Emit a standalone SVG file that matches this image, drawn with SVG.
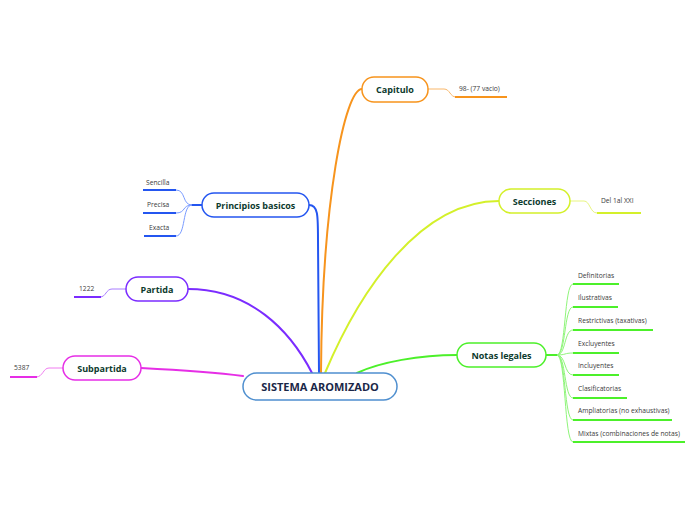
<svg xmlns="http://www.w3.org/2000/svg" width="696" height="520" viewBox="0 0 696 520">
<style>
.n rect{fill:#fff;stroke-width:1.5}
.t{font-family:"Open Sans","Noto Sans",sans-serif;font-weight:bold;font-size:9px;fill:#0d3b2e;text-anchor:middle}
.c{font-family:"Open Sans","Noto Sans",sans-serif;font-size:6.7px;fill:#3a3a3a}
.m{fill:none;stroke-width:2;stroke-linecap:round}
.s{fill:none;stroke-width:1}
.u{fill:none;stroke-width:2}
</style>
<rect width="696" height="520" fill="#fff"/>
<g id="connectors">
<path class="m" stroke="#f7941d" d="M362,89 C345,89 322,200 321,373"/>
<path class="m" stroke="#2456f0" d="M309,205 C318,205 318,215 318,240 L319,373"/>
<path class="m" stroke="#7b2cff" d="M188,289 C250,289 290,330 312,373"/>
<path class="m" stroke="#e62ee6" d="M141,368 C180,370 220,373 243,376"/>
<path class="m" stroke="#d4f02a" d="M499,201 C420,201 360,290 325,373"/>
<path class="m" stroke="#4cf02a" d="M457,355 C420,355 380,362 357,373"/>
<path class="s" stroke="#f9b76a" d="M428,89 L444,89 C450,89 450,97 456,97"/>
<path class="u" stroke="#f7941d" d="M455,97 L507,97"/>
<path class="m" stroke="#2456f0" d="M202,205 L192,205" stroke-width="1.5"/>
<path class="s" stroke="#7a9cff" d="M192,205 C182,205 186,190 176,190 M192,205 C182,205 186,213 176,213 M192,205 C182,205 186,236 176,236"/>
<path class="u" stroke="#2456f0" d="M143,190 L176,190 M143,213 L176,213 M144,236 L176,236"/>
<path class="s" stroke="#a87cff" d="M126,289 L112,289 C106,289 106,297 100,297"/>
<path class="u" stroke="#7b2cff" d="M74,297 L101,297"/>
<path class="s" stroke="#f07df0" d="M63,368 L49,368 C43,368 43,377 36,377"/>
<path class="u" stroke="#e62ee6" d="M10,377 L37,377"/>
<path class="s" stroke="#e8f580" d="M570,201 L584,201 C590,201 590,213 597,213"/>
<path class="u" stroke="#d4f02a" d="M597,213 L641,213"/>
<path class="m" stroke="#4cf02a" d="M546,355 L557,355" stroke-width="1.5"/>
<path class="s" stroke="#8ff57a" d="M557,355 C566,355 564,284 573,284 M557,355 C566,355 564,307 573,307 M557,355 C566,355 564,330 573,330 M557,355 C566,355 564,353 573,353 M557,355 C566,355 564,375 573,375 M557,355 C566,355 564,398 573,398 M557,355 C566,355 564,420 573,420 M557,355 C566,355 564,442 573,442"/>
<path class="u" stroke="#4cf02a" d="M573,284 L619,284 M573,307 L618,307 M573,330 L653,330 M573,353 L619,353 M573,375 L619,375 M573,398 L627,398 M573,420 L672,420 M573,442 L685,442"/>
</g>
<g id="central" class="n">
<rect x="243" y="373" width="154" height="27" rx="13.5" stroke="#4f8fcf"/>
<text x="320" y="391" class="t" style="font-size:11px;fill:#1a2748">SISTEMA AROMIZADO</text>
</g>
<g id="capitulo" class="n">
<rect x="362" y="77" width="66" height="25" rx="12" stroke="#f7941d"/>
<text x="395" y="92.5" class="t">Capitulo</text>
</g>
<g id="capitulo-c"><text x="459" y="91" class="c">98- (77 vacio)</text></g>
<g id="principios" class="n">
<rect x="202" y="193" width="107" height="24" rx="12" stroke="#2456f0"/>
<text x="255.5" y="208.5" class="t">Principios basicos</text>
</g>
<g id="sencilla"><text x="146" y="185" class="c">Sencilla</text></g>
<g id="precisa"><text x="147" y="207" class="c">Precisa</text></g>
<g id="exacta"><text x="149" y="230" class="c">Exacta</text></g>
<g id="partida" class="n">
<rect x="126" y="277" width="62" height="24" rx="12" stroke="#7b2cff"/>
<text x="157" y="292.5" class="t">Partida</text>
</g>
<g id="partida-c"><text x="79" y="291" class="c">1222</text></g>
<g id="subpartida" class="n">
<rect x="63" y="356" width="78" height="24" rx="12" stroke="#e62ee6"/>
<text x="102" y="371.5" class="t">Subpartida</text>
</g>
<g id="subpartida-c"><text x="14" y="370" class="c">5387</text></g>
<g id="secciones" class="n">
<rect x="499" y="189" width="71" height="24" rx="12" stroke="#d4f02a"/>
<text x="534.5" y="204.5" class="t">Secciones</text>
</g>
<g id="secciones-c"><text x="601" y="203" class="c">Del 1al XXI</text></g>
<g id="notas" class="n">
<rect x="457" y="343" width="89" height="24" rx="12" stroke="#4cf02a"/>
<text x="501.5" y="358.5" class="t">Notas legales</text>
</g>
<g id="notas-c">
<text x="578" y="278" class="c">Definitorias</text>
<text x="578" y="300" class="c">Ilustrativas</text>
<text x="578" y="323" class="c">Restrictivas (taxativas)</text>
<text x="578" y="346" class="c">Excluyentes</text>
<text x="578" y="368" class="c">Incluyentes</text>
<text x="578" y="391" class="c">Clasificatorias</text>
<text x="578" y="413" class="c">Ampliatorias (no exhaustivas)</text>
<text x="578" y="436" class="c">Mixtas (combinaciones de notas)</text>
</g>
</svg>
